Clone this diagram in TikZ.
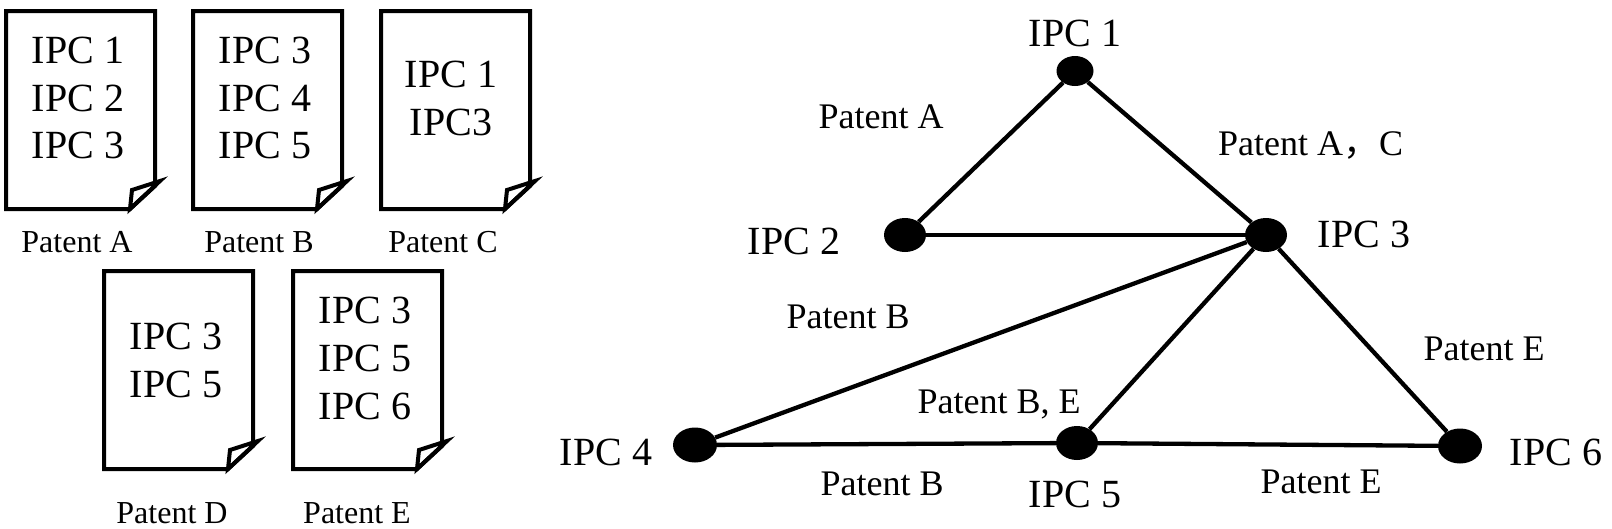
\documentclass[tikz,border=0pt]{standalone}
\usepackage{fontspec}
\setmainfont{Liberation Serif}
\newfontfamily\cjkfont{Noto Sans CJK SC}
\usetikzlibrary{shapes.geometric}
\begin{document}
\begin{tikzpicture}[x=1pt,y=-1pt,
  docline/.style={draw=black,line width=4pt,line join=miter},
  doctext/.style={font=\fontsize{40}{48}\selectfont,inner sep=0pt,anchor=base},
  caption/.style={font=\fontsize{32}{38}\selectfont,inner sep=0pt,anchor=base},
  ipclabel/.style={font=\fontsize{40}{48}\selectfont,inner sep=0pt,anchor=base},
  patlabel/.style={font=\fontsize{36}{43}\selectfont,inner sep=0pt,anchor=base},
  dot/.style={ellipse,fill=black,minimum width=42pt,minimum height=34pt,inner sep=0pt},
  edge/.style={line width=4.3pt},
  docpage/.pic={
    \draw[docline] (0,0) -- (149,0) -- (149,175) -- (124,198) -- (0,198) -- cycle;
    \draw[docline] (124,198) -- (126,179) -- (154,170) -- cycle;
  }
]
\fill[white] (0,0) rectangle (1612,528);
\useasboundingbox (0,0) rectangle (1612,528);

% documents
\pic at (6,11) {docpage};
\pic at (193,11) {docpage};
\pic at (381,11) {docpage};
\pic at (104,271) {docpage};
\pic at (293,271) {docpage};

\node[doctext] (a1) at (78,63) {IPC 1};
\node[doctext] (a2) at (78,111) {IPC 2};
\node[doctext] (a3) at (78,158) {IPC 3};
\node[doctext] (b1) at (265,63) {IPC 3};
\node[doctext] (b2) at (265,111) {IPC 4};
\node[doctext] (b3) at (265,158) {IPC 5};
\node[doctext] (c1) at (451,87) {IPC 1};
\node[doctext] (c2) at (451,135) {IPC3};
\node[doctext] (d1) at (176,349) {IPC 3};
\node[doctext] (d2) at (176,397) {IPC 5};
\node[doctext] (e1) at (365,323) {IPC 3};
\node[doctext] (e2) at (365,371) {IPC 5};
\node[doctext] (e3) at (365,419) {IPC 6};

\node[caption] (capA) at (77,252) {Patent A};
\node[caption] (capB) at (259,252) {Patent B};
\node[caption] (capC) at (443,252) {Patent C};
\node[caption] (capD) at (172,523) {Patent D};
\node[caption] (capE) at (357,523) {Patent E};

% network
\node[dot,minimum width=37pt,minimum height=30pt] (n1) at (1075,71) {};
\node[dot] (n2) at (905,235) {};
\node[dot] (n3) at (1266,235) {};
\node[dot,minimum width=44pt,minimum height=35pt] (n4) at (695,445) {};
\node[dot] (n5) at (1077,443) {};
\node[dot,minimum width=44pt,minimum height=35pt] (n6) at (1460,446) {};

\draw[edge] (n1) -- (n2);
\draw[edge] (n1) -- (n3);
\draw[edge] (n2) -- (n3);
\draw[edge] (n3) -- (n4);
\draw[edge] (n3) -- (n5);
\draw[edge] (n3) -- (n6);
\draw[edge] (n4) -- (n5);
\draw[edge] (n5) -- (n6);

\node[ipclabel] (l1) at (1075,46) {IPC 1};
\node[ipclabel] (l2) at (794,254) {IPC 2};
\node[ipclabel] (l3) at (1364,247) {IPC 3};
\node[ipclabel] (l4) at (606,465) {IPC 4};
\node[ipclabel] (l5) at (1075,507) {IPC 5};
\node[ipclabel] (l6) at (1556,465) {IPC 6};

\node[patlabel] (p12) at (881,128) {Patent A};
\node[patlabel,anchor=base west] (p13) at (1218,155) {Patent A{\cjkfont ，}C};
\node[patlabel] (p34) at (848,328) {Patent B};
\node[patlabel] (p36) at (1484,360) {Patent E};
\node[patlabel] (p35) at (999,413) {Patent B, E};
\node[patlabel] (p45) at (882,495) {Patent B};
\node[patlabel] (p56) at (1321,493) {Patent E};
\end{tikzpicture}
\end{document}
